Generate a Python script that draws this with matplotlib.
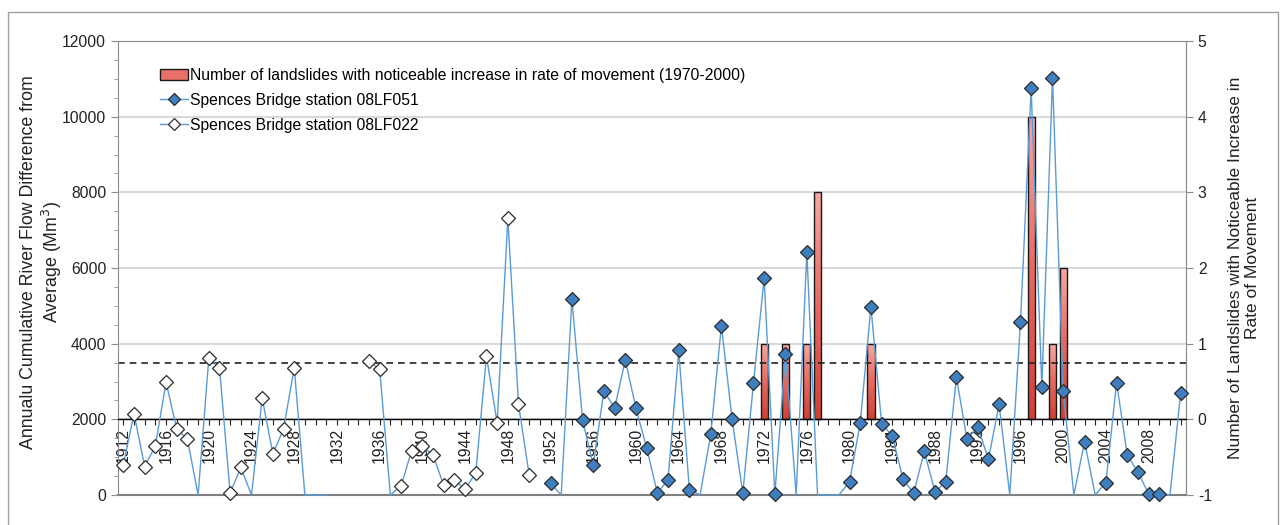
import numpy as np
import matplotlib.pyplot as plt
from matplotlib.lines import Line2D
from matplotlib.patches import Rectangle
from matplotlib.ticker import MultipleLocator
from matplotlib.colors import LinearSegmentedColormap

plt.rcParams['font.family'] = ['Liberation Sans', 'DejaVu Sans']
plt.rcParams['axes.unicode_minus'] = False

# annual flow difference (Mm3); -500 = below the axis (drawn at the floor, Excel style), nan = no data
years_022 = list(range(1912, 1951))
flow_022 = [800, 2150, 750, 1300, 2980, 1740, 1480, -500, 3610, 3370,
            50, 730, -500, 2560, 1090, 1740, 3370, -500, -500, -500,
            np.nan, np.nan, np.nan, 3530, 3330, -500, 240, 1170, 1300, 1050,
            260, 390, 150, 590, 3670, 1910, 7310, 2400, 530]

years_051 = list(range(1952, 2012))
flow_051 = [310, -500, 5170, 1980, 790, 2750, 2290, 3570, 2290, 1250,
            50, 400, 3820, 140, -500, 1600, 4480, 2000, 50, 2950,
            5730, 20, 3730, -500, 6420, -500, -500, -500, 350, 1910,
            4980, 1880, 1570, 420, 50, 1150, 80, 350, 3110, 1470,
            1810, 940, 2400, -500, 4560, 10750, 2850, 11030, 2750, -500,
            1410, -500, 330, 2970, 1060, 600, 30, 30, -500, 2690]

slide_years = [1972, 1974, 1976, 1977, 1982, 1997, 1999, 2000]
slide_counts = [1, 1, 1, 3, 1, 4, 1, 2]

avg_flow = 3500

all_years = list(range(1912, 2012))

fs = 11.3
txt = '#222222'

fig = plt.figure(figsize=(12.81, 5.25), dpi=100)
ax = fig.add_axes([118 / 1281, 30 / 525, 1068 / 1281, 454 / 525])
ax2 = ax.twinx()
ax.set_zorder(ax2.get_zorder() + 1)
ax.patch.set_visible(False)

# grid + bars on the right axis (behind the lines)
ax2.set_ylim(-1, 5)
ax2.yaxis.set_major_locator(MultipleLocator(1))
ax2.grid(axis='y', color='#d9d9d9', lw=1.5)
ax2.set_axisbelow(True)

cmap = LinearSegmentedColormap.from_list('bar', ['#cf4238', '#e66a61', '#f7a7a1'])
grad = np.linspace(1, 0, 64).reshape(-1, 1)
bars = ax2.bar(slide_years, slide_counts, width=0.68, color='none',
               edgecolor='#1a1a1a', lw=1, zorder=3)
for b in bars:
    x0, y0 = b.get_x(), b.get_y()
    im = ax2.imshow(grad, extent=[x0, x0 + b.get_width(), y0, y0 + b.get_height()],
                    cmap=cmap, aspect='auto', interpolation='bicubic', zorder=2)
    im.set_clip_path(b)

# flow lines on the left axis
line_col = '#5b9bd5'
for yrs, vals, face in [(years_022, flow_022, 'white'), (years_051, flow_051, '#3f7fbf')]:
    y = np.array(vals, dtype=float)
    ax.plot(yrs, np.clip(y, 0, None), color=line_col, lw=1, clip_on=False, zorder=3)
    m = y >= 0
    ax.plot(np.array(yrs)[m], y[m], ls='none', marker='D', ms=7, mfc=face,
            mec='#2b2b2b', mew=0.9, clip_on=False, zorder=4)

ax.axhline(avg_flow, color='#222222', ls=(0, (4, 3)), lw=1.2, zorder=2)
ax.axhline(0, color='#7f7f7f', lw=1.5, clip_on=False, zorder=1)

ax.set_xlim(1911.5, 2011.5)
ax.set_ylim(0, 12000)
ax.yaxis.set_major_locator(MultipleLocator(2000))
ax.yaxis.set_minor_locator(MultipleLocator(500))

ax.spines['bottom'].set_position(('data', 2000))
ax.spines['bottom'].set_color('black')
ax.spines['bottom'].set_linewidth(1)
for s in ['top', 'left', 'right']:
    ax.spines[s].set_color('#8c8c8c')
for s in ['top', 'left', 'bottom']:
    ax2.spines[s].set_visible(False)
ax2.spines['right'].set_color('#8c8c8c')

ax.set_xticks(all_years)
ax.set_xticklabels([str(yr) if (yr - 1912) % 4 == 0 else '' for yr in all_years])
ax.tick_params(axis='x', direction='out', length=4, pad=2, labelrotation=90,
               labelsize=fs, colors=txt)
ax.tick_params(axis='y', which='major', length=5, color='#8c8c8c', labelsize=fs,
               labelcolor=txt)
ax.tick_params(axis='y', which='minor', length=3, color='#8c8c8c')
ax2.tick_params(axis='y', length=5, color='#8c8c8c', labelsize=fs, labelcolor=txt)

fig.text(42 / 1281, 1 - 262 / 525,
         'Annualu Cumulative River Flow Difference from\nAverage (Mm$^3$)',
         rotation=90, ha='center', va='center', multialignment='center',
         fontsize=12.8, color=txt)
fig.text(1244 / 1281, 1 - 268 / 525,
         'Number of Landslides with Noticeable Increase in\nRate of Movement',
         rotation=90, ha='center', va='center', multialignment='center',
         fontsize=12.5, color=txt)

handles = [
    Rectangle((0, 0), 1, 1, fc='#e8706a', ec='#1a1a1a', lw=1),
    Line2D([], [], color=line_col, lw=1, marker='D', ms=6, mfc='#3f7fbf', mec='#2b2b2b', mew=0.9),
    Line2D([], [], color=line_col, lw=1, marker='D', ms=6, mfc='white', mec='#2b2b2b', mew=0.9),
]
labels = ['Number of landslides with noticeable increase in rate of movement (1970-2000)',
          'Spences Bridge station 08LF051',
          'Spences Bridge station 08LF022']
ax.legend(handles, labels, loc='upper left', bbox_to_anchor=(0.039, 0.94),
          frameon=False, borderaxespad=0, borderpad=0, handlelength=1.8,
          handletextpad=0.15, labelspacing=0.62, fontsize=fs)

fig.add_artist(Rectangle((8 / 1281, -0.01), 1270 / 1281, 1 - 12 / 525 + 0.01,
                         transform=fig.transFigure, fill=False, ec='#a0a0a0', lw=1))

fig.savefig('out.png', dpi=100)
